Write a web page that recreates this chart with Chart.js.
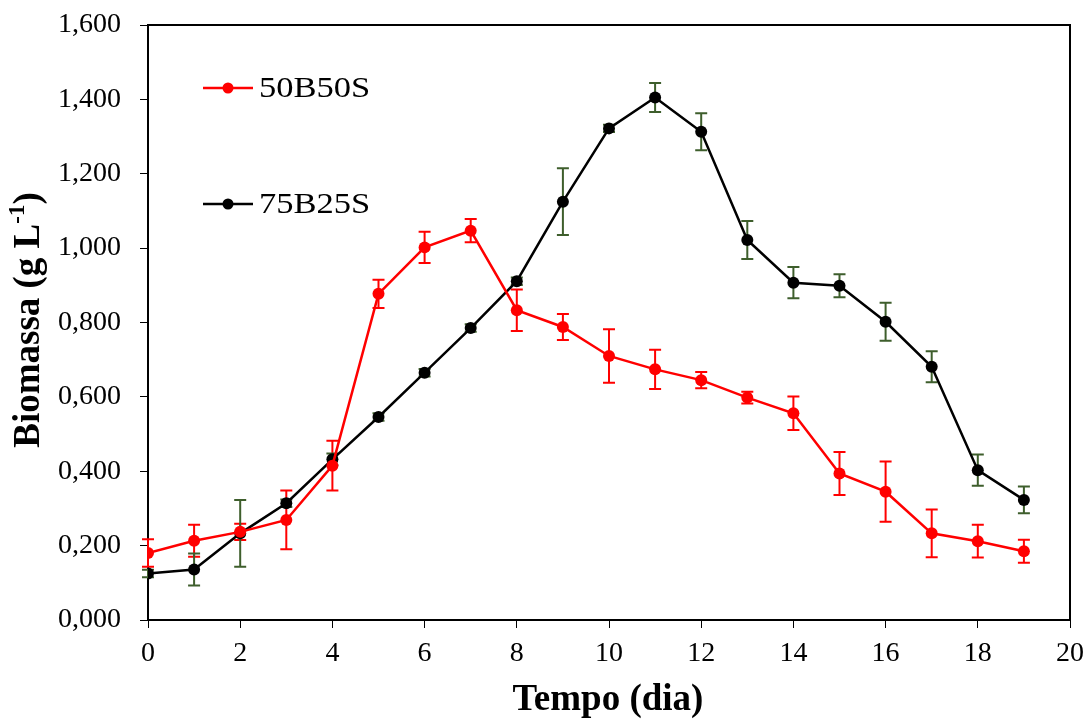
<!DOCTYPE html>
<html>
<head>
<meta charset="utf-8">
<script src="https://cdn.jsdelivr.net/npm/chart.js@4/dist/chart.umd.min.js"></script>
<style>
  html, body { margin: 0; padding: 0; background: #fff; }
  #wrap { width: 1087px; height: 720px; }
</style>
</head>
<body>
<div id="wrap"><canvas id="myChart" width="1087" height="720"></canvas></div>
<script>
// days of cultivation
const days = [0, 1, 2, 3, 4, 5, 6, 7, 8, 9, 10, 11, 12, 13, 14, 15, 16, 17, 18, 19];
const seriesNames = ["50B50S", "75B25S"];
// biomass (g/L)
const biomass50B50S = [0.180, 0.213, 0.237, 0.269, 0.415, 0.877, 1.002, 1.047, 0.833, 0.788,
  0.710, 0.674, 0.645, 0.598, 0.556, 0.394, 0.345, 0.233, 0.212, 0.185];
const biomass75B25S = [0.125, 0.136, 0.233, 0.314, 0.432, 0.546, 0.665, 0.785, 0.911, 1.125,
  1.322, 1.405, 1.313, 1.022, 0.907, 0.899, 0.802, 0.681, 0.403, 0.323];
// standard deviations
const err50B50S = [0.037, 0.043, 0.022, 0.079, 0.067, 0.038, 0.042, 0.031, 0.056, 0.035,
  0.072, 0.053, 0.022, 0.016, 0.045, 0.058, 0.081, 0.064, 0.044, 0.031];
const err75B25S = [0.010, 0.043, 0.090, 0.010, 0.016, 0.010, 0.010, 0.010, 0.010, 0.090,
  0.010, 0.039, 0.050, 0.051, 0.042, 0.031, 0.051, 0.042, 0.042, 0.036];
const yTickLabels = ["0,000", "0,200", "0,400", "0,600", "0,800", "1,000", "1,200", "1,400", "1,600"];
const xTickLabels = ["0", "2", "4", "6", "8", "10", "12", "14", "16", "18", "20"];

const serif = "'Liberation Serif', 'Times New Roman', serif";

// draw error bars under the points
const errorBars = {
  id: "errorBars",
  beforeDatasetsDraw(chart) {
    const ctx = chart.ctx;
    const ys = chart.scales.y;
    chart.data.datasets.forEach((ds, i) => {
      const meta = chart.getDatasetMeta(i);
      ctx.save();
      ctx.strokeStyle = ds.errColor;
      ctx.lineWidth = 2;
      meta.data.forEach((pt, j) => {
        const top = ys.getPixelForValue(ds.data[j].y + ds.errors[j]);
        const bot = ys.getPixelForValue(ds.data[j].y - ds.errors[j]);
        ctx.beginPath();
        ctx.moveTo(pt.x, top);
        ctx.lineTo(pt.x, bot);
        ctx.moveTo(pt.x - 6, top);
        ctx.lineTo(pt.x + 6, top);
        ctx.moveTo(pt.x - 6, bot);
        ctx.lineTo(pt.x + 6, bot);
        ctx.stroke();
      });
      ctx.restore();
    });
  },
};

// frame, axis titles and legend
const decorations = {
  id: "decorations",
  afterDraw(chart) {
    const ctx = chart.ctx;
    const a = chart.chartArea;
    ctx.save();
    ctx.strokeStyle = "#000";
    ctx.lineWidth = 2;
    ctx.beginPath();
    ctx.moveTo(a.left, a.top);
    ctx.lineTo(a.right, a.top);
    ctx.lineTo(a.right, a.bottom);
    ctx.stroke();

    // x title
    ctx.fillStyle = "#000";
    ctx.textAlign = "center";
    ctx.textBaseline = "middle";
    ctx.font = "bold 37px " + serif;
    ctx.fillText("Tempo (dia)", 608, 700);

    // y title with superscript
    ctx.translate(26, 320);
    ctx.rotate(-Math.PI / 2);
    const main = "Biomassa (g L";
    const sup = "-1";
    const close = ")";
    ctx.font = "bold 37px " + serif;
    const w1 = ctx.measureText(main).width;
    const w3 = ctx.measureText(close).width;
    ctx.font = "bold 23px " + serif;
    const w2 = ctx.measureText(sup).width;
    let x = -(w1 + w2 + w3) / 2;
    ctx.textAlign = "left";
    ctx.textBaseline = "alphabetic";
    ctx.font = "bold 37px " + serif;
    ctx.fillText(main, x, 13);
    x += w1;
    ctx.font = "bold 23px " + serif;
    ctx.fillText(sup, x, -2);
    x += w2;
    ctx.font = "bold 37px " + serif;
    ctx.fillText(close, x, 13);
    ctx.restore();

    // legend
    ctx.save();
    const rows = [88, 204];
    chart.data.datasets.forEach((ds, i) => {
      const y = rows[i];
      ctx.strokeStyle = ds.borderColor;
      ctx.fillStyle = ds.borderColor;
      ctx.lineWidth = 2.5;
      ctx.beginPath();
      ctx.moveTo(203, y);
      ctx.lineTo(253, y);
      ctx.stroke();
      ctx.beginPath();
      ctx.arc(228, y, 5.5, 0, Math.PI * 2);
      ctx.fill();
      ctx.save();
      ctx.translate(259, y + 1);
      ctx.scale(1.15, 1);
      ctx.fillStyle = "#000";
      ctx.font = "30px " + serif;
      ctx.textAlign = "left";
      ctx.textBaseline = "middle";
      ctx.fillText(ds.label, 0, 0);
      ctx.restore();
    });
    ctx.restore();
  },
};

const toPoints = (vals) => vals.map((v, i) => ({ x: days[i], y: v }));

new Chart(document.getElementById("myChart").getContext("2d"), {
  type: "line",
  data: {
    datasets: [
      {
        label: seriesNames[0],
        data: toPoints(biomass50B50S),
        errors: err50B50S,
        errColor: "#ff0000",
        borderColor: "#ff0000",
        backgroundColor: "#ff0000",
        borderWidth: 2.5,
        pointRadius: 6,
        pointBorderWidth: 0,
        tension: 0,
      },
      {
        label: seriesNames[1],
        data: toPoints(biomass75B25S),
        errors: err75B25S,
        errColor: "#3e5e2c",
        borderColor: "#000000",
        backgroundColor: "#000000",
        borderWidth: 2.5,
        pointRadius: 6,
        pointBorderWidth: 0,
        tension: 0,
      },
    ],
  },
  options: {
    responsive: false,
    animation: false,
    layout: { padding: { top: 25, right: 17, left: 0, bottom: 0 } },
    plugins: { legend: { display: false }, tooltip: { enabled: false } },
    scales: {
      x: {
        type: "linear",
        min: 0,
        max: 20,
        afterFit(scale) {
          scale.height = 100;
          scale.paddingLeft = 0;
          scale.paddingRight = 0;
        },
        afterBuildTicks(scale) {
          scale.ticks = xTickLabels.map((t) => ({ value: Number(t) }));
        },
        ticks: {
          color: "#000",
          font: { family: serif, size: 28 },
          padding: 9,
          maxRotation: 0,
          callback: (v, i) => xTickLabels[i],
        },
        grid: { drawOnChartArea: false, drawTicks: true, tickLength: 8, color: "#000", lineWidth: 1 },
        border: { display: true, color: "#000", width: 2 },
      },
      y: {
        min: 0,
        max: 1.6,
        afterFit(scale) {
          scale.width = 148;
          scale.paddingTop = 0;
          scale.paddingBottom = 0;
        },
        afterBuildTicks(scale) {
          scale.ticks = yTickLabels.map((t, i) => ({ value: i * 0.2 }));
        },
        ticks: {
          color: "#000",
          font: { family: serif, size: 28 },
          padding: 19,
          callback: (v, i) => yTickLabels[i],
        },
        grid: { drawOnChartArea: false, drawTicks: true, tickLength: 8, color: "#000", lineWidth: 1 },
        border: { display: true, color: "#000", width: 2 },
      },
    },
  },
  plugins: [errorBars, decorations],
});
</script>
</body>
</html>
